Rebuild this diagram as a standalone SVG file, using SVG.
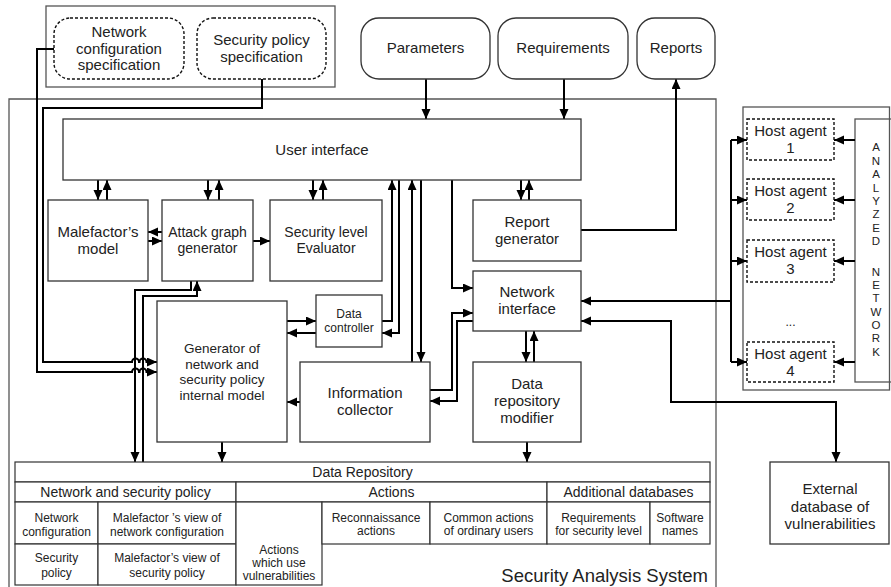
<svg xmlns="http://www.w3.org/2000/svg" width="891" height="587" viewBox="0 0 891 587">
<style>
text{font-family:"Liberation Sans",Arial,sans-serif;fill:#222;text-anchor:middle}
.t15{font-size:15px}
.t14{font-size:14px}
.t135{font-size:13.5px}
.t12{font-size:12px}
.t11{font-size:11.5px}
.box{fill:#fff;stroke:#333;stroke-width:1.3}
.frame{fill:none;stroke:#555;stroke-width:1.3}
.dash{fill:#fff;stroke:#111;stroke-width:1.4;stroke-dasharray:3 2}
.cell{fill:#fff;stroke:#333;stroke-width:1.2}
.c{fill:none;stroke:#000;stroke-width:2}
.a{marker-end:url(#ah)}
.b{marker-start:url(#ah);marker-end:url(#ah)}
</style>
<defs>
<marker id="ah" markerWidth="11" markerHeight="10" refX="10" refY="4.5" orient="auto-start-reverse" markerUnits="userSpaceOnUse">
<path d="M0,0 L10,4.5 L0,9 z" fill="#000"/>
</marker>
</defs>

<!-- frames -->
<rect class="frame" x="46" y="6" width="289" height="81"/>
<path class="frame" d="M9,600 V99 H716 V600"/>
<rect class="frame" x="743" y="107" width="146.5" height="283"/>
<rect class="frame" x="855" y="119" width="40" height="263"/>
<text class="t11" x="876" y="151">A</text>
<text class="t11" x="876" y="165">N</text>
<text class="t11" x="876" y="178">A</text>
<text class="t11" x="876" y="192">L</text>
<text class="t11" x="876" y="205">Y</text>
<text class="t11" x="876" y="218">Z</text>
<text class="t11" x="876" y="232">E</text>
<text class="t11" x="876" y="245">D</text>
<text class="t11" x="876" y="276">N</text>
<text class="t11" x="876" y="289">E</text>
<text class="t11" x="876" y="302">T</text>
<text class="t11" x="876" y="316">W</text>
<text class="t11" x="876" y="329">O</text>
<text class="t11" x="876" y="342">R</text>
<text class="t11" x="876" y="356">K</text>
<text x="708" y="582" style="font-size:18.5px;text-anchor:end">Security Analysis System</text>

<!-- connectors -->
<g id="connectors">
<path class="c a" d="M426,79 V119"/>
<path class="c a" d="M564,79 V119"/>
<path class="c a" d="M581,230 H676 V79"/>
<path class="c a" d="M98,180 V200"/>
<path class="c a" d="M107,200 V180"/>
<path class="c a" d="M208,180 V200"/>
<path class="c a" d="M219,200 V180"/>
<path class="c a" d="M313,180 V200"/>
<path class="c a" d="M323,200 V180"/>
<path class="c a" d="M521,180 V200"/>
<path class="c a" d="M529,200 V180"/>
<path class="c a" d="M162,232 H148"/>
<path class="c a" d="M148,241 H162"/>
<path class="c a" d="M253,241 H270"/>
<path class="c a" d="M382,321 H392 V180"/>
<path class="c a" d="M399,180 V333 H382"/>
<path class="c a" d="M412,362 V180"/>
<path class="c a" d="M421,180 V362"/>
<path class="c a" d="M452,180 V288 H473"/>
<path class="c a" d="M430,390 H452 V313 H473"/>
<path class="c a" d="M473,321 H457 V401 H430"/>
<path class="c a" d="M287,321 H316"/>
<path class="c a" d="M316,333 H287"/>
<path class="c a" d="M300,402 H287"/>
<path class="c a" d="M526,331 V362"/>
<path class="c a" d="M534,362 V331"/>
<path class="c a" d="M527,442 V462"/>
<path class="c a" d="M222,442 V462"/>
<path class="c a" d="M191,281 V290 H135 V462"/>
<path class="c a" d="M143,462 V296 H197 V281"/>
<path class="c a" d="M54,49 H37 V372 H132 a3.5,3.5 0 0 1 7,0 H139.5 a3.5,3.5 0 0 1 7,0 H157"/>
<path class="c a" d="M262,79 V108 H43 V362 H132 a3.5,3.5 0 0 1 7,0 H139.5 a3.5,3.5 0 0 1 7,0 H157"/>
<path class="c" d="M731,140 V362"/>
<path class="c a" d="M731,301 H581"/>
<path class="c a" d="M731,140 H747"/>
<path class="c a" d="M731,200 H747"/>
<path class="c a" d="M731,261 H747"/>
<path class="c a" d="M731,362 H747"/>
<path class="c a" d="M855,140 H834"/>
<path class="c a" d="M855,200 H834"/>
<path class="c a" d="M855,261 H834"/>
<path class="c a" d="M855,362 H834"/>
<path class="c b" d="M581,321 H671 V402 H836 V462"/>
</g>

<!-- inputs -->
<g id="ncs"><rect class="dash" x="54" y="18" width="130" height="61" rx="16"/>
<text class="t15" x="119" y="37">Network</text><text class="t15" x="119" y="53.5">configuration</text><text class="t15" x="119" y="70">specification</text></g>
<g id="sps"><rect class="dash" x="197" y="18" width="129" height="61" rx="16"/>
<text class="t15" x="261.5" y="45">Security policy</text><text class="t15" x="261.5" y="62">specification</text></g>
<g id="parameters"><rect class="box" x="361" y="18" width="129" height="61" rx="18"/>
<text class="t15" x="425.5" y="53">Parameters</text></g>
<g id="requirements"><rect class="box" x="498" y="18" width="130" height="61" rx="18"/>
<text class="t15" x="563" y="53">Requirements</text></g>
<g id="reports"><rect class="box" x="637" y="18" width="78" height="61" rx="18"/>
<text class="t15" x="676" y="53">Reports</text></g>

<!-- system nodes -->
<g id="ui"><rect class="box" x="63" y="119" width="518" height="61"/>
<text class="t15" x="322" y="155">User interface</text></g>
<g id="malefactor"><rect class="box" x="48" y="200" width="100" height="81"/>
<text class="t15" x="98" y="237">Malefactor’s</text><text class="t15" x="98" y="254">model</text></g>
<g id="attackgraph"><rect class="box" x="162" y="200" width="91" height="81"/>
<text class="t14" x="207.5" y="237">Attack graph</text><text class="t14" x="207.5" y="253">generator</text></g>
<g id="seclevel"><rect class="box" x="270" y="200" width="112" height="81"/>
<text class="t14" x="326" y="237">Security level</text><text class="t14" x="326" y="253">Evaluator</text></g>
<g id="reportgen"><rect class="box" x="473" y="200" width="108" height="61"/>
<text class="t15" x="527" y="227">Report</text><text class="t15" x="527" y="244">generator</text></g>
<g id="netif"><rect class="box" x="473" y="271" width="108" height="60"/>
<text class="t15" x="527" y="297">Network</text><text class="t15" x="527" y="314">interface</text></g>
<g id="datacontroller"><rect class="box" x="316" y="295" width="66" height="52"/>
<text class="t12" x="349" y="318">Data</text><text class="t12" x="349" y="332">controller</text></g>
<g id="generator"><rect class="box" x="157" y="301" width="130" height="141"/>
<text class="t135" x="222" y="353">Generator of</text><text class="t135" x="222" y="368.5">network and</text><text class="t135" x="222" y="384">security policy</text><text class="t135" x="222" y="399.5">internal model</text></g>
<g id="infocollector"><rect class="box" x="300" y="362" width="130" height="80"/>
<text class="t15" x="365" y="398">Information</text><text class="t15" x="365" y="415">collector</text></g>
<g id="drm"><rect class="box" x="473" y="362" width="108" height="80"/>
<text class="t15" x="527" y="389">Data</text><text class="t15" x="527" y="406">repository</text><text class="t15" x="527" y="423">modifier</text></g>

<!-- data repository -->
<g id="datarepo">
<rect class="cell" x="15" y="462" width="695" height="20"/>
<text class="t14" x="362.5" y="477">Data Repository</text>
<rect class="cell" x="15" y="482" width="221" height="20"/>
<text class="t14" x="125.5" y="497">Network and security policy</text>
<rect class="cell" x="236" y="482" width="311" height="20"/>
<text class="t14" x="391.5" y="497">Actions</text>
<rect class="cell" x="547" y="482" width="163" height="20"/>
<text class="t14" x="628.5" y="497">Additional databases</text>
<rect class="cell" x="15" y="502" width="83" height="42"/>
<text class="t12" x="56.5" y="522">Network</text><text class="t12" x="56.5" y="536">configuration</text>
<rect class="cell" x="98" y="502" width="138" height="42"/>
<text class="t12" x="167" y="522">Malefactor ’s view of</text><text class="t12" x="167" y="536">network configuration</text>
<rect class="cell" x="15" y="544" width="83" height="41"/>
<text class="t12" x="56.5" y="562">Security</text><text class="t12" x="56.5" y="577">policy</text>
<rect class="cell" x="98" y="544" width="138" height="41"/>
<text class="t12" x="167" y="562">Malefactor’s view of</text><text class="t12" x="167" y="577">security policy</text>
<rect class="cell" x="236" y="502" width="86" height="83"/>
<text class="t12" x="279" y="554">Actions</text><text class="t12" x="279" y="567">which use</text><text class="t12" x="279" y="580">vulnerabilities</text>
<rect class="cell" x="322" y="502" width="108" height="42"/>
<text class="t12" x="376" y="522">Reconnaissance</text><text class="t12" x="376" y="535">actions</text>
<rect class="cell" x="430" y="502" width="117" height="42"/>
<text class="t12" x="488.5" y="522">Common actions</text><text class="t12" x="488.5" y="535">of ordinary users</text>
<rect class="cell" x="547" y="502" width="103" height="42"/>
<text class="t12" x="598.5" y="522">Requirements</text><text class="t12" x="598.5" y="535">for security level</text>
<rect class="cell" x="650" y="502" width="60" height="42"/>
<text class="t12" x="680" y="522">Software</text><text class="t12" x="680" y="535">names</text>
</g>

<!-- host agents -->
<g id="host1"><rect class="dash" x="747" y="119" width="87" height="41"/>
<text class="t15" x="790.5" y="136">Host agent</text><text class="t15" x="790.5" y="153">1</text></g>
<g id="host2"><rect class="dash" x="747" y="179" width="87" height="41"/>
<text class="t15" x="790.5" y="196">Host agent</text><text class="t15" x="790.5" y="213">2</text></g>
<g id="host3"><rect class="dash" x="747" y="240" width="87" height="42"/>
<text class="t15" x="790.5" y="257">Host agent</text><text class="t15" x="790.5" y="274">3</text></g>
<text class="t12" x="790.5" y="326">...</text>
<g id="host4"><rect class="dash" x="747" y="342" width="87" height="40"/>
<text class="t15" x="790.5" y="359">Host agent</text><text class="t15" x="790.5" y="376">4</text></g>

<g id="extdb"><rect class="box" x="770" y="462" width="119" height="82"/>
<text class="t15" x="830" y="494">External</text><text class="t15" x="830" y="512">database of</text><text class="t15" x="830" y="529">vulnerabilities</text></g>
</svg>
